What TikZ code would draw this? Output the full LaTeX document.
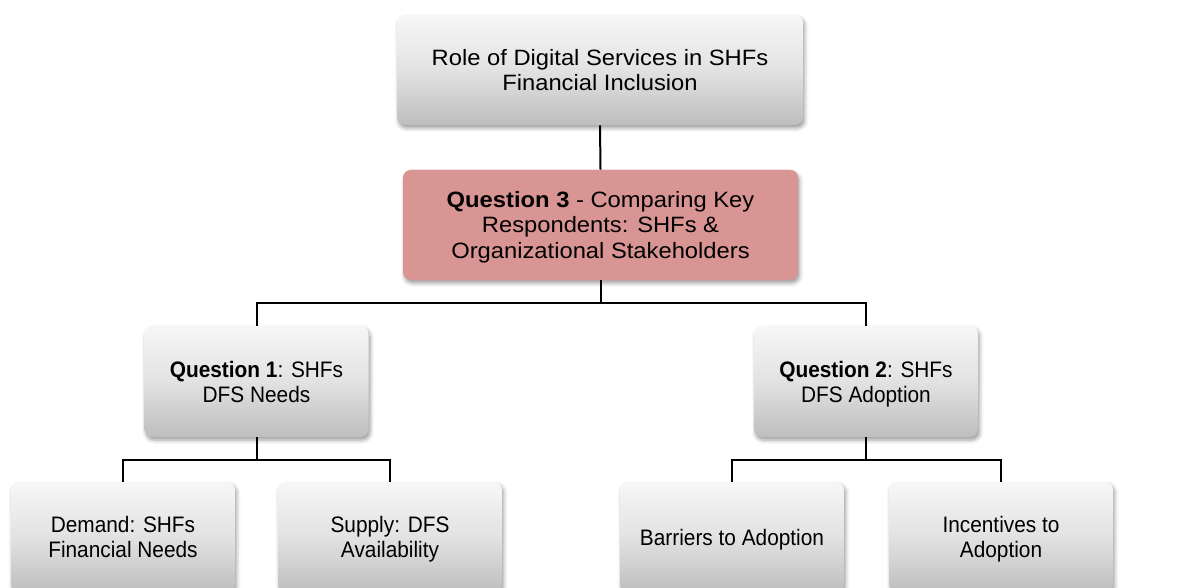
\documentclass[tikz,border=0pt]{standalone}
\usepackage{fontspec}
\setmainfont{Liberation Sans}
\newfontfamily\lowfont[FakeStretch=0.93]{Liberation Sans}
\newfontfamily\topfont[FakeStretch=1.07]{Liberation Sans}
\usetikzlibrary{shadows.blur}
\definecolor{boxtop}{HTML}{F7F7F7}
\definecolor{boxmid}{HTML}{E2E2E2}
\definecolor{boxbot}{HTML}{BEBEBE}
\definecolor{qred}{HTML}{D99594}
\newcommand\ts{\rule[-3.75pt]{0pt}{15.5pt}}
\begin{document}
\begin{tikzpicture}[x=0.5pt,y=-0.5pt,
  box/.style={rounded corners=4pt, top color=boxtop, bottom color=boxbot, middle color=boxmid,
    blur shadow={shadow xshift=0.8pt, shadow yshift=-1.5pt, shadow blur radius=2pt, shadow opacity=40},
    align=center, font=\lowfont\fontsize{11.2}{12.5}\selectfont, inner sep=0pt,
    minimum width=112pt, minimum height=55pt},
  bigbox/.style={box, font=\topfont\fontsize{11.1}{12.5}\selectfont},
  redbox/.style={bigbox, fill=qred, top color=qred, bottom color=qred, middle color=qred},
  link/.style={draw=black, line width=1pt}]
\useasboundingbox (0,0) rectangle (1177,588);
\clip (0,0) rectangle (1177,588);
\node[bigbox, minimum width=203pt] (top) at (600,70) {\ts Role of Digital Services in SHFs\\Financial Inclusion\strut};
\node[redbox, minimum width=197.5pt] (q3) at (600.5,225) {\ts\textbf{Question 3} - Comparing Key\\Respondents: SHFs \&\\Organizational Stakeholders\strut};
\node[box, minimum height=55.5pt] (q1) at (256.5,381.5) {\ts\textbf{Question 1}: SHFs\\DFS Needs\strut};
\node[box, minimum height=55.5pt] (q2) at (866,381.5) {\ts\textbf{Question 2}: SHFs\\DFS Adoption\strut};
\node[box] (dem) at (123,537) {\ts Demand: SHFs\\Financial Needs\strut};
\node[box] (sup) at (390,537) {\ts Supply: DFS\\Availability\strut};
\node[box] (bar) at (732,537) {\ts Barriers to Adoption\strut};
\node[box] (inc) at (1001,537) {\ts Incentives to\\Adoption\strut};
\draw[link] (top.south) -- (q3.north);
\draw[link] (q3.south) -- ++(0,23) -| (q1.north);
\draw[link] (q3.south) -- ++(0,23) -| (q2.north);
\draw[link] (q1.south) -- ++(0,23) -| (dem.north);
\draw[link] (q1.south) -- ++(0,23) -| (sup.north);
\draw[link] (q2.south) -- ++(0,23) -| (bar.north);
\draw[link] (q2.south) -- ++(0,23) -| (inc.north);
\end{tikzpicture}
\end{document}
